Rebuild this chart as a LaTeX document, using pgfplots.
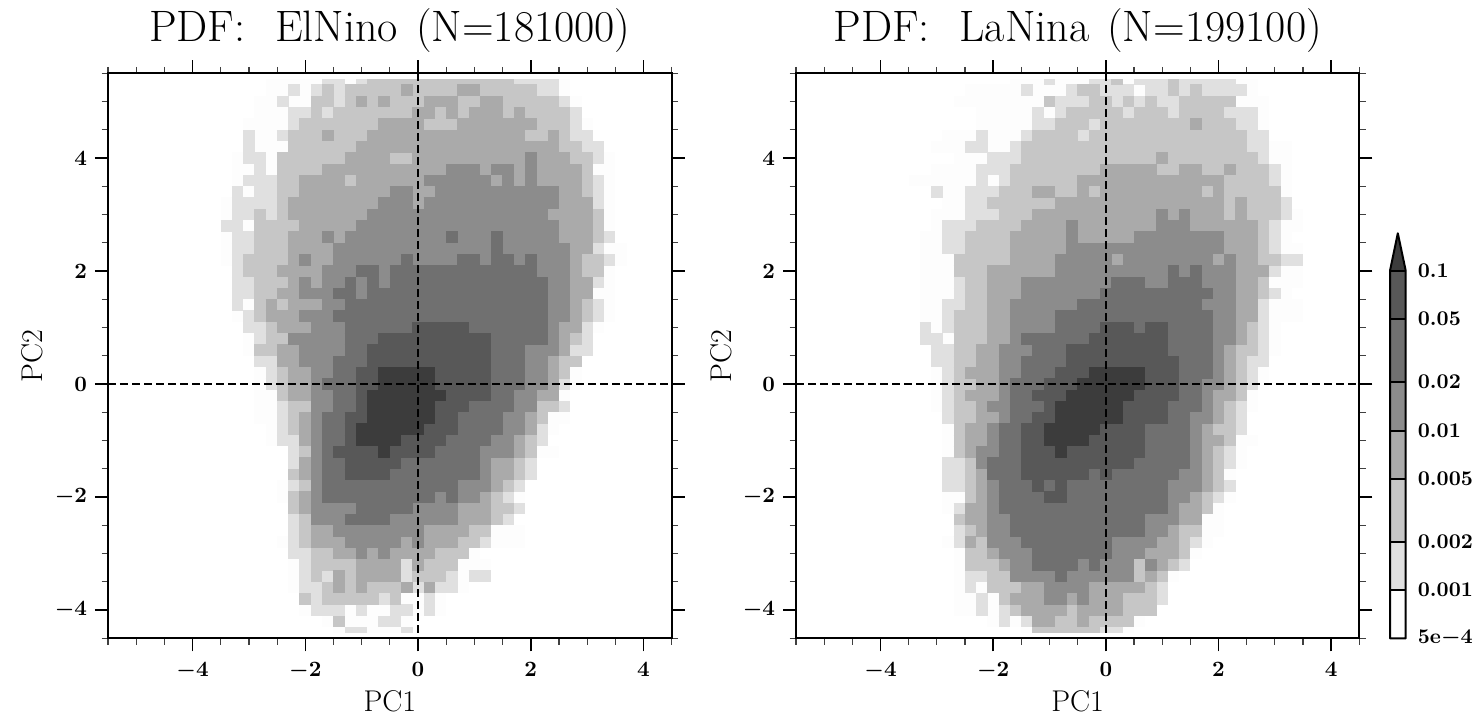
\documentclass[border=0pt]{standalone}
\usepackage{pgfplots}
\pgfplotsset{compat=1.18}
\usepackage{pgfplotstable}
\definecolor{lev1}{HTML}{FDFDFD}
\definecolor{lev2}{HTML}{E0E0E0}
\definecolor{lev3}{HTML}{C6C6C6}
\definecolor{lev4}{HTML}{AAAAAA}
\definecolor{lev5}{HTML}{8C8C8C}
\definecolor{lev6}{HTML}{707070}
\definecolor{lev7}{HTML}{585858}
\definecolor{lev8}{HTML}{3C3C3C}
% Each row: row centre y, first and last cell centre of a run, shading level
\pgfplotstableread[row sep=\\]{
y a b c\\
5.4 -2.6 2.6 1\\ 5.4 -1.6 -1.4 2\\ 5.4 -1 -1 2\\ 5.4 -0.8 1.6 3\\ 5.4 1.8 2.4 2\\
5.2 -2.6 2.6 1\\ 5.2 -2.2 -2.2 2\\ 5.2 -1.8 -1.8 2\\ 5.2 -1.6 -1.6 3\\ 5.2 -1.4 -1.4 2\\ 5.2 -1.2 -0.4 3\\ 5.2 -0.2 -0.2 4\\ 5.2 0 0.6 3\\ 5.2 0.8 1 4\\ 5.2 1.2 2 3\\ 5.2 2.2 2.4 2\\
5 -2.8 2.8 1\\ 5 -2.4 -2.4 2\\ 5 -1.8 -1.6 3\\ 5 -1.4 -1.4 2\\ 5 -1.2 -1.2 3\\ 5 -1 -1 4\\ 5 -0.8 -0.8 3\\ 5 -0.6 -0.6 4\\ 5 -0.4 0 3\\ 5 0.2 0.6 4\\ 5 0.8 1 3\\ 5 1.2 1.4 4\\ 5 1.6 2.4 3\\ 5 2.6 2.6 2\\
4.8 -2.8 2.8 1\\ 4.8 -2.2 -2 2\\ 4.8 -1.8 -1.8 3\\ 4.8 -1.6 -1.6 2\\ 4.8 -1.4 -0.2 3\\ 4.8 0 0.2 4\\ 4.8 0.4 0.4 3\\ 4.8 0.6 0.6 4\\ 4.8 0.8 0.8 3\\ 4.8 1 1.4 4\\ 4.8 1.6 1.6 3\\ 4.8 1.8 1.8 4\\ 4.8 2 2.6 3\\ 4.8 2.8 2.8 2\\
4.6 -3 3 1\\ 4.6 -2.2 -2.2 2\\ 4.6 -2 -0.8 3\\ 4.6 -0.6 0 4\\ 4.6 0.2 0.6 3\\ 4.6 0.8 2 4\\ 4.6 2.2 2.6 3\\ 4.6 2.8 2.8 2\\
4.4 -3 3 1\\ 4.4 -3 -3 2\\ 4.4 -2.4 -2.4 2\\ 4.4 -2.2 -1.8 3\\ 4.4 -1.6 -1.6 4\\ 4.4 -1.4 -1 3\\ 4.4 -0.8 1.8 4\\ 4.4 2 2.2 3\\ 4.4 2.4 2.4 4\\ 4.4 2.6 2.6 3\\ 4.4 2.8 3 2\\
4.2 -3 3.2 1\\ 4.2 -3 -3 2\\ 4.2 -2.2 -1.2 3\\ 4.2 -1 2.4 4\\ 4.2 2.6 2.8 3\\ 4.2 3 3.2 2\\
4 -3.2 3.4 1\\ 4 -3 -2.8 2\\ 4 -2.4 -1.4 3\\ 4 -1.2 -0.6 4\\ 4 -0.4 -0.2 3\\ 4 0 1.8 4\\ 4 2 2 5\\ 4 2.2 2.6 4\\ 4 2.8 3 3\\ 4 3.2 3.2 2\\
3.8 -3.2 3.4 1\\ 3.8 -2.8 -2.8 2\\ 3.8 -2.4 -1.8 3\\ 3.8 -1.6 0.4 4\\ 3.8 0.6 1 5\\ 3.8 1.2 1.2 4\\ 3.8 1.4 1.6 5\\ 3.8 1.8 1.8 4\\ 3.8 2 2 5\\ 3.8 2.2 2.8 4\\ 3.8 3 3 3\\
3.6 -3.2 3.4 1\\ 3.6 -3 -2.6 2\\ 3.6 -2.4 -2.2 3\\ 3.6 -2 -1.4 4\\ 3.6 -1.2 -1.2 3\\ 3.6 -1 0 4\\ 3.6 0.2 1.2 5\\ 3.6 1.4 1.4 4\\ 3.6 1.6 1.6 5\\ 3.6 1.8 1.8 4\\ 3.6 2 2 5\\ 3.6 2.2 2.8 4\\ 3.6 3 3 3\\ 3.6 3.2 3.2 2\\
3.4 -3.2 3.4 1\\ 3.4 -3.2 -3.2 2\\ 3.4 -2.8 -2.6 2\\ 3.4 -2.4 -2.2 3\\ 3.4 -2 -0.6 4\\ 3.4 -0.4 -0.2 5\\ 3.4 0 0.2 4\\ 3.4 0.4 2.4 5\\ 3.4 2.6 2.8 4\\ 3.4 3 3 3\\ 3.4 3.2 3.2 2\\
3.2 -3.4 3.4 1\\ 3.2 -3.2 -2.6 2\\ 3.2 -2.4 -2.4 3\\ 3.2 -2.2 -0.8 4\\ 3.2 -0.6 -0.2 5\\ 3.2 0 0 4\\ 3.2 0.2 2.4 5\\ 3.2 2.6 3 4\\ 3.2 3.2 3.2 2\\
3 -3.4 3.4 1\\ 3 -3.2 -3 2\\ 3 -2.8 -2.8 3\\ 3 -2.6 -2.6 2\\ 3 -2.4 -2.4 3\\ 3 -2.2 -1 4\\ 3 -0.8 2.2 5\\ 3 2.4 3 4\\ 3 3.2 3.2 3\\
2.8 -3.4 3.4 1\\ 2.8 -3.4 -3.2 2\\ 2.8 -2.8 -2.2 3\\ 2.8 -2 -1.2 4\\ 2.8 -1 2.4 5\\ 2.8 2.6 3 4\\ 2.8 3.2 3.2 3\\
2.6 -3.4 3.4 1\\ 2.6 -3.2 -3 2\\ 2.6 -2.8 -2.4 3\\ 2.6 -2.2 -1.8 4\\ 2.6 -1.6 -1.6 5\\ 2.6 -1.4 -1.4 4\\ 2.6 -1.2 0.4 5\\ 2.6 0.6 0.6 6\\ 2.6 0.8 1.2 5\\ 2.6 1.4 1.4 6\\ 2.6 1.6 2.4 5\\ 2.6 2.6 3 4\\ 2.6 3.2 3.2 3\\ 2.6 3.4 3.4 2\\
2.4 -3.4 3.6 1\\ 2.4 -3.2 -3 2\\ 2.4 -2.8 -2.4 3\\ 2.4 -2.2 -1.6 4\\ 2.4 -1.4 1.2 5\\ 2.4 1.4 1.4 6\\ 2.4 1.6 2.6 5\\ 2.4 2.8 3 4\\ 2.4 3.2 3.2 2\\
2.2 -3.4 3.6 1\\ 2.2 -3.2 -3.2 2\\ 2.2 -3 -2.4 3\\ 2.2 -2.2 -2.2 4\\ 2.2 -2 -2 5\\ 2.2 -1.8 -1.6 4\\ 2.2 -1.4 -0.4 5\\ 2.2 -0.2 -0.2 6\\ 2.2 0 0.6 5\\ 2.2 0.8 1 6\\ 2.2 1.2 1.2 5\\ 2.2 1.4 1.6 6\\ 2.2 1.8 1.8 5\\ 2.2 2 2 6\\ 2.2 2.2 2.6 5\\ 2.2 2.8 2.8 4\\ 2.2 3 3.2 3\\ 2.2 3.4 3.4 2\\
2 -3.2 3.4 1\\ 2 -3.2 -3.2 2\\ 2 -3 -2.6 3\\ 2 -2.4 -1.8 4\\ 2 -1.6 -1.2 5\\ 2 -1 -0.8 6\\ 2 -0.6 -0.6 5\\ 2 -0.4 2 6\\ 2 2.2 2.6 5\\ 2 2.8 2.8 4\\ 2 3 3.2 3\\
1.8 -3.2 3.4 1\\ 1.8 -3.2 -3 2\\ 1.8 -2.8 -2.4 3\\ 1.8 -2.2 -2.2 4\\ 1.8 -2 -2 5\\ 1.8 -1.8 -1.8 4\\ 1.8 -1.6 -1.4 5\\ 1.8 -1.2 -1.2 6\\ 1.8 -1 -1 5\\ 1.8 -0.8 -0.8 6\\ 1.8 -0.6 -0.6 5\\ 1.8 -0.4 2.2 6\\ 1.8 2.4 2.6 5\\ 1.8 2.8 3 4\\ 1.8 3.2 3.2 2\\
1.6 -3.2 3.4 1\\ 1.6 -3.2 -3 2\\ 1.6 -2.8 -2.6 3\\ 1.6 -2.4 -2.2 4\\ 1.6 -2 -1.6 5\\ 1.6 -1.4 -1.2 6\\ 1.6 -1 -1 5\\ 1.6 -0.8 2.2 6\\ 1.6 2.4 2.6 5\\ 1.6 2.8 3 4\\
1.4 -3.2 3.4 1\\ 1.4 -3.2 -3.2 2\\ 1.4 -2.8 -2.8 3\\ 1.4 -2.6 -2.6 4\\ 1.4 -2.4 -2.4 3\\ 1.4 -2.2 -1.8 4\\ 1.4 -1.6 -1.4 5\\ 1.4 -1.2 2.2 6\\ 1.4 2.4 2.6 5\\ 1.4 2.8 2.8 4\\ 1.4 3 3 3\\ 1.4 3.2 3.2 2\\
1.2 -3.2 3.4 1\\ 1.2 -3 -3 2\\ 1.2 -2.8 -2.8 3\\ 1.2 -2.6 -2.2 4\\ 1.2 -2 -1.6 5\\ 1.2 -1.4 2.2 6\\ 1.2 2.4 2.6 5\\ 1.2 2.8 2.8 4\\ 1.2 3 3 3\\ 1.2 3.2 3.2 2\\
1 -3 3.2 1\\ 1 -3 -2.8 2\\ 1 -2.6 -2.6 3\\ 1 -2.4 -2 4\\ 1 -1.8 -1.4 5\\ 1 -1.2 -0.2 6\\ 1 0 0.8 7\\ 1 1 2.2 6\\ 1 2.4 2.4 5\\ 1 2.6 2.8 4\\ 1 3 3 2\\
0.8 -3 3 1\\ 0.8 -2.8 -2.8 2\\ 0.8 -2.6 -2.4 3\\ 0.8 -2.2 -1.4 5\\ 0.8 -1.2 -0.8 6\\ 0.8 -0.6 1.2 7\\ 0.8 1.4 2.2 6\\ 0.8 2.4 2.4 5\\ 0.8 2.6 2.6 4\\ 0.8 2.8 2.8 3\\ 0.8 3 3 2\\
0.6 -3 3 1\\ 0.6 -2.8 -2.6 3\\ 0.6 -2.4 -2.2 4\\ 0.6 -2 -1.4 5\\ 0.6 -1.2 -1 6\\ 0.6 -0.8 1.2 7\\ 0.6 1.4 1.8 6\\ 0.6 2 2.4 5\\ 0.6 2.6 2.6 4\\ 0.6 2.8 3 2\\
0.4 -2.8 2.8 1\\ 0.4 -2.8 -2.6 2\\ 0.4 -2.4 -2.2 4\\ 0.4 -2 -1.6 5\\ 0.4 -1.4 -1 6\\ 0.4 -0.8 1.2 7\\ 0.4 1.4 1.8 6\\ 0.4 2 2.2 5\\ 0.4 2.4 2.4 4\\ 0.4 2.6 2.8 3\\
0.2 -2.8 2.8 1\\ 0.2 -2.6 -2.6 2\\ 0.2 -2.4 -2.4 3\\ 0.2 -2.2 -2 4\\ 0.2 -1.8 -1.6 5\\ 0.2 -1.4 -1.2 6\\ 0.2 -1 -0.8 7\\ 0.2 -0.6 0.2 8\\ 0.2 0.4 1.2 7\\ 0.2 1.4 1.8 6\\ 0.2 2 2.2 5\\ 0.2 2.4 2.4 4\\ 0.2 2.6 2.6 3\\
0 -2.8 2.8 1\\ 0 -2.6 -2.6 2\\ 0 -2.4 -2.4 3\\ 0 -2.2 -2 4\\ 0 -1.8 -1.8 5\\ 0 -1.6 -1.2 6\\ 0 -1 -0.8 7\\ 0 -0.6 0.2 8\\ 0 0.4 1.2 7\\ 0 1.4 1.8 6\\ 0 2 2.2 5\\ 0 2.4 2.4 4\\ 0 2.6 2.6 2\\
-0.2 -2.8 2.6 1\\ -0.2 -2.4 -2.4 3\\ -0.2 -2.2 -2 4\\ -0.2 -1.8 -1.6 5\\ -0.2 -1.4 -1.2 6\\ -0.2 -1 -1 7\\ -0.2 -0.8 0.4 8\\ -0.2 0.6 1.2 7\\ -0.2 1.4 1.6 6\\ -0.2 1.8 2 5\\ -0.2 2.2 2.4 4\\
-0.4 -2.8 2.6 1\\ -0.4 -2.4 -2.4 2\\ -0.4 -2.2 -2 3\\ -0.4 -1.8 -1.6 5\\ -0.4 -1.4 -1.2 6\\ -0.4 -1 -1 7\\ -0.4 -0.8 0.2 8\\ -0.4 0.4 0.8 7\\ -0.4 1 1.6 6\\ -0.4 1.8 2 5\\ -0.4 2.2 2.4 3\\ -0.4 2.6 2.6 2\\
-0.6 -2.8 2.6 1\\ -0.6 -2.4 -2.4 2\\ -0.6 -2.2 -2.2 3\\ -0.6 -2 -2 4\\ -0.6 -1.8 -1.8 5\\ -0.6 -1.6 -1.4 6\\ -0.6 -1.2 -1 7\\ -0.6 -0.8 0.2 8\\ -0.6 0.4 0.6 7\\ -0.6 0.8 1.4 6\\ -0.6 1.6 1.8 5\\ -0.6 2 2 4\\ -0.6 2.2 2.2 3\\
-0.8 -2.6 2.4 1\\ -0.8 -2.4 -2.4 2\\ -0.8 -2.2 -2.2 3\\ -0.8 -2 -2 4\\ -0.8 -1.8 -1.8 5\\ -0.8 -1.6 -1.4 6\\ -0.8 -1.2 -1.2 7\\ -0.8 -1 0 8\\ -0.8 0.2 0.6 7\\ -0.8 0.8 1.4 6\\ -0.8 1.6 1.8 5\\ -0.8 2 2 4\\ -0.8 2.2 2.2 2\\
-1 -2.6 2.2 1\\ -1 -2.4 -2.2 2\\ -1 -2 -2 4\\ -1 -1.8 -1.8 5\\ -1 -1.6 -1.4 6\\ -1 -1.2 -1.2 7\\ -1 -1 -0.4 8\\ -1 -0.2 0.4 7\\ -1 0.6 1.2 6\\ -1 1.4 1.6 5\\ -1 1.8 1.8 4\\ -1 2 2 3\\ -1 2.2 2.2 2\\
-1.2 -2.2 2.4 1\\ -1.2 -2.2 -2.2 2\\ -1.2 -2 -2 3\\ -1.2 -1.8 -1.8 5\\ -1.2 -1.6 -1.6 6\\ -1.2 -1.4 -0.8 7\\ -1.2 -0.6 -0.6 8\\ -1.2 -0.4 0.2 7\\ -1.2 0.4 1 6\\ -1.2 1.2 1.6 5\\ -1.2 1.8 1.8 4\\ -1.2 2 2 3\\
-1.4 -2.2 2 1\\ -1.4 -2.2 -2.2 2\\ -1.4 -2 -2 4\\ -1.4 -1.8 -1.8 5\\ -1.4 -1.6 -1.4 6\\ -1.4 -1.2 -0.4 7\\ -1.4 -0.2 1 6\\ -1.4 1.2 1.2 5\\ -1.4 1.4 1.6 4\\ -1.4 1.8 1.8 3\\ -1.4 2 2 2\\
-1.6 -2.2 2 1\\ -1.6 -2.2 -2.2 3\\ -1.6 -2 -2 4\\ -1.6 -1.8 -1.8 5\\ -1.6 -1.6 -1.4 6\\ -1.6 -1.2 -0.6 7\\ -1.6 -0.4 1 6\\ -1.6 1.2 1.2 5\\ -1.6 1.4 1.6 4\\ -1.6 1.8 1.8 3\\ -1.6 2 2 2\\
-1.8 -2.4 1.8 1\\ -1.8 -2.2 -2.2 2\\ -1.8 -2 -2 3\\ -1.8 -1.8 -1.8 5\\ -1.8 -1.6 0.6 6\\ -1.8 0.8 1.2 5\\ -1.8 1.4 1.4 4\\ -1.8 1.6 1.6 3\\ -1.8 1.8 1.8 2\\
-2 -2.4 1.8 1\\ -2 -2.2 -2.2 3\\ -2 -2 -2 4\\ -2 -1.8 -1.8 5\\ -2 -1.6 0.2 6\\ -2 0.4 0.4 5\\ -2 0.6 0.6 6\\ -2 0.8 1 5\\ -2 1.2 1.2 4\\ -2 1.4 1.4 3\\ -2 1.6 1.6 2\\
-2.2 -2.2 1.8 1\\ -2.2 -2.2 -2.2 3\\ -2.2 -2 -2 4\\ -2.2 -1.8 -1.2 5\\ -2.2 -1 -0.2 6\\ -2.2 0 0.6 5\\ -2.2 0.8 1.2 4\\ -2.2 1.4 1.6 3\\ -2.2 1.8 1.8 2\\
-2.4 -2.2 1.6 1\\ -2.4 -2.2 -2.2 2\\ -2.4 -2 -2 3\\ -2.4 -1.8 -1.4 5\\ -2.4 -1.2 -0.6 6\\ -2.4 -0.4 0.6 5\\ -2.4 0.8 1.2 4\\ -2.4 1.4 1.4 3\\ -2.4 1.6 1.6 2\\
-2.6 -2.2 1.8 1\\ -2.6 -2.2 -2.2 2\\ -2.6 -2 -2 3\\ -2.6 -1.8 -1.6 4\\ -2.6 -1.4 0 5\\ -2.6 0.2 0.8 4\\ -2.6 1 1.2 3\\
-2.8 -2.4 1.8 1\\ -2.8 -2.2 -2.2 2\\ -2.8 -2 -2 3\\ -2.8 -1.8 -1.4 4\\ -2.8 -1.2 -0.4 5\\ -2.8 -0.2 -0.2 4\\ -2.8 0 0 5\\ -2.8 0.2 0.6 4\\ -2.8 0.8 1 3\\ -2.8 1.2 1.2 2\\
-3 -2.2 1 1\\ -3 -2.2 -2 2\\ -3 -1.8 -1.6 3\\ -3 -1.4 -1.2 4\\ -3 -1 -1 5\\ -3 -0.8 -0.8 4\\ -3 -0.6 -0.6 5\\ -3 -0.4 0.2 4\\ -3 0.4 0.8 3\\
-3.2 -2.2 1.2 1\\ -3.2 -2 -2 2\\ -3.2 -1.8 -1.2 3\\ -3.2 -1 -0.4 4\\ -3.2 -0.2 -0.2 2\\ -3.2 0 0 4\\ -3.2 0.2 0.6 3\\
-3.4 -2.2 1.2 1\\ -3.4 -2 -2 2\\ -3.4 -1.8 -1.8 3\\ -3.4 -1.6 -1.6 2\\ -3.4 -1.4 -1.4 4\\ -3.4 -1.2 -1.2 3\\ -3.4 -1 -0.4 4\\ -3.4 -0.2 -0.2 2\\ -3.4 0 0.4 3\\ -3.4 0.6 0.6 2\\ -3.4 1 1.2 2\\
-3.6 -2.2 0.8 1\\ -3.6 -2 -1.8 2\\ -3.6 -1.6 -1.6 3\\ -3.6 -1.4 -1.4 4\\ -3.6 -1.2 -1.2 3\\ -3.6 -1 -1 4\\ -3.6 -0.8 -0.4 3\\ -3.6 -0.2 -0.2 4\\ -3.6 0 0 2\\ -3.6 0.2 0.2 4\\ -3.6 0.4 0.6 2\\
-3.8 -2 0.4 1\\ -3.8 -2 -2 3\\ -3.8 -1.8 -1.8 2\\ -3.8 -1.6 -0.8 3\\ -3.8 -0.6 -0.6 2\\ -3.8 -0.4 -0.4 3\\ -3.8 0.2 0.2 2\\
-4 -2 0.4 1\\ -4 -1.8 -1.4 2\\ -4 -1 -1 2\\ -4 -0.4 -0.2 2\\ -4 0.2 0.2 2\\
-4.2 -1.6 -0.2 1\\ -4.2 -1.4 -1.4 3\\ -4.2 -0.6 -0.4 2\\
-4.4 -1.4 -0.2 1\\ -4.4 -1.2 -1 2\\ -4.4 -0.2 -0.2 2\\
}\tabElNino
\pgfplotstableread[row sep=\\]{
y a b c\\
5.4 -1.6 2.6 1\\ 5.4 -1 -1 2\\ 5.4 -0.2 0 2\\ 5.4 0.2 0.2 3\\ 5.4 0.6 1 2\\ 5.4 1.2 1.2 3\\ 5.4 1.4 2.2 2\\
5.2 -2.4 2.6 1\\ 5.2 -1.4 -1.4 2\\ 5.2 -0.6 -0.6 2\\ 5.2 -0.4 -0.2 3\\ 5.2 0 0.4 2\\ 5.2 0.8 1 2\\ 5.2 1.2 1.2 3\\ 5.2 1.4 1.4 2\\ 5.2 1.6 1.6 3\\ 5.2 1.8 2.4 2\\
5 -2.6 2.8 1\\ 5 -1 -1 3\\ 5 -0.8 -0.4 2\\ 5 -0.2 0 3\\ 5 0.2 0.2 2\\ 5 0.4 0.4 3\\ 5 0.6 0.6 2\\ 5 0.8 0.8 3\\ 5 1 1.2 2\\ 5 1.4 2.2 3\\
4.8 -2.2 2.8 1\\ 4.8 -1.2 -1.2 2\\ 4.8 -0.8 -0.8 2\\ 4.8 -0.6 0.2 3\\ 4.8 0.4 0.4 2\\ 4.8 0.6 1 3\\ 4.8 1.2 1.2 2\\ 4.8 1.4 2 3\\ 4.8 2.2 2.6 2\\
4.6 -2.2 2.8 1\\ 4.6 -1.2 -1 2\\ 4.6 -0.8 -0.4 3\\ 4.6 -0.2 -0.2 2\\ 4.6 0 1.4 3\\ 4.6 1.6 1.6 4\\ 4.6 1.8 2.2 3\\ 4.6 2.4 2.6 2\\
4.4 -2.8 2.8 1\\ 4.4 -2.2 -2.2 2\\ 4.4 -1.4 -1.4 2\\ 4.4 -1.2 -0.6 3\\ 4.4 -0.4 -0.4 2\\ 4.4 -0.2 2.4 3\\ 4.4 2.6 2.8 2\\
4.2 -3 3.2 1\\ 4.2 -2.4 -2.2 2\\ 4.2 -1.6 -1.6 2\\ 4.2 -1.4 2.4 3\\ 4.2 2.6 2.8 2\\
4 -2.6 3.2 1\\ 4 -2 -1.6 2\\ 4 -1.4 0.8 3\\ 4 1 1 4\\ 4 1.2 2.6 3\\ 4 2.8 2.8 2\\
3.8 -3 3.2 1\\ 3.8 -2.2 -1.8 2\\ 3.8 -1.6 -0.2 3\\ 3.8 0 0.8 4\\ 3.8 1 1.2 3\\ 3.8 1.4 1.6 4\\ 3.8 1.8 2 3\\ 3.8 2.2 2.2 4\\ 3.8 2.4 2.8 3\\ 3.8 3 3 2\\
3.6 -3.4 3.2 1\\ 3.6 -2.2 -2.2 2\\ 3.6 -1.8 -1.8 2\\ 3.6 -1.6 -0.6 3\\ 3.6 -0.4 2 4\\ 3.6 2.2 2.8 3\\ 3.6 3 3 2\\
3.4 -3 3.2 1\\ 3.4 -3 -3 2\\ 3.4 -2.4 -2 2\\ 3.4 -1.8 -1.4 3\\ 3.4 -1.2 -1 4\\ 3.4 -0.8 -0.6 3\\ 3.4 -0.4 -0.4 4\\ 3.4 -0.2 -0.2 3\\ 3.4 0 1.6 4\\ 3.4 1.8 1.8 3\\ 3.4 2 2 4\\ 3.4 2.2 3 3\\
3.2 -2.8 3.2 1\\ 3.2 -2.4 -2.2 2\\ 3.2 -2 -1 3\\ 3.2 -0.8 2 4\\ 3.2 2.2 2.2 3\\ 3.2 2.4 2.4 4\\ 3.2 2.6 3 3\\ 3.2 3.2 3.2 2\\
3 -3 3.4 1\\ 3 -2.4 -2 2\\ 3 -1.8 -1.4 3\\ 3 -1.2 0.8 4\\ 3 1 1 5\\ 3 1.2 1.2 4\\ 3 1.4 1.4 5\\ 3 1.6 2 4\\ 3 2.2 2.2 3\\ 3 2.4 2.4 4\\ 3 2.6 3 3\\ 3 3.2 3.2 2\\
2.8 -3 3.4 1\\ 2.8 -2.8 -2.4 2\\ 2.8 -2.2 -1.6 3\\ 2.8 -1.4 -0.8 4\\ 2.8 -0.6 -0.6 5\\ 2.8 -0.4 0.8 4\\ 2.8 1 1.4 5\\ 2.8 1.6 2.6 4\\ 2.8 2.8 2.8 3\\ 2.8 3 3 2\\
2.6 -3.2 3.2 1\\ 2.6 -2.8 -2.6 2\\ 2.6 -2.4 -1.8 3\\ 2.6 -1.6 -0.8 4\\ 2.6 -0.6 -0.6 5\\ 2.6 -0.4 0.4 4\\ 2.6 0.6 2 5\\ 2.6 2.2 2.6 4\\ 2.6 2.8 2.8 3\\ 2.6 3 3 2\\
2.4 -3.2 3.4 1\\ 2.4 -2.8 -2.6 2\\ 2.4 -2.4 -1.8 3\\ 2.4 -1.6 -0.8 4\\ 2.4 -0.6 2 5\\ 2.4 2.2 2.6 4\\ 2.4 2.8 2.8 3\\ 2.4 3 3 2\\
2.2 -3.2 3.4 1\\ 2.2 -2.6 -1.8 3\\ 2.2 -1.6 -1 4\\ 2.2 -0.8 0 5\\ 2.2 0.2 0.2 4\\ 2.2 0.4 1.8 5\\ 2.2 2 2 4\\ 2.2 2.2 2.2 5\\ 2.2 2.4 2.6 4\\ 2.2 2.8 3 3\\ 2.2 3.2 3.4 2\\
2 -3.2 3.4 1\\ 2 -2.6 -2.2 3\\ 2 -2 -1 4\\ 2 -0.8 1 5\\ 2 1.2 1.2 6\\ 2 1.4 1.4 5\\ 2 1.6 1.6 6\\ 2 1.8 2.2 5\\ 2 2.4 2.8 4\\ 2 3 3 2\\
1.8 -3.2 3.4 1\\ 1.8 -2.6 -2.6 2\\ 1.8 -2.4 -2.2 3\\ 1.8 -2 -1.6 4\\ 1.8 -1.4 0 5\\ 1.8 0.2 0.6 6\\ 1.8 0.8 1 5\\ 1.8 1.2 1.6 6\\ 1.8 1.8 2.2 5\\ 1.8 2.4 2.6 4\\ 1.8 2.8 2.8 3\\
1.6 -3.2 3.2 1\\ 1.6 -2.6 -2.6 2\\ 1.6 -2.4 -2.2 3\\ 1.6 -2 -1.6 4\\ 1.6 -1.4 -0.2 5\\ 1.6 0 1.8 6\\ 1.6 2 2.2 5\\ 1.6 2.4 2.6 4\\ 1.6 2.8 2.8 3\\ 1.6 3 3 2\\
1.4 -3.2 3.4 1\\ 1.4 -2.8 -2.6 2\\ 1.4 -2.4 -2.2 3\\ 1.4 -2 -1.8 4\\ 1.4 -1.6 -0.6 5\\ 1.4 -0.4 1.6 6\\ 1.4 1.8 2.2 5\\ 1.4 2.4 2.6 4\\ 1.4 2.8 2.8 2\\
1.2 -3.2 3.4 1\\ 1.2 -2.8 -2.8 2\\ 1.2 -2.6 -2.2 3\\ 1.2 -2 -1.8 4\\ 1.2 -1.6 -1 5\\ 1.2 -0.8 1.8 6\\ 1.2 2 2.2 5\\ 1.2 2.4 2.6 4\\ 1.2 2.8 2.8 2\\
1 -3.2 3 1\\ 1 -3.2 -3.2 2\\ 1 -2.8 -2.8 2\\ 1 -2.6 -2.2 3\\ 1 -2 -1.8 4\\ 1 -1.6 -1 5\\ 1 -0.8 -0.2 6\\ 1 0 0.4 7\\ 1 0.6 0.6 6\\ 1 0.8 1 7\\ 1 1.2 1.8 6\\ 1 2 2.2 5\\ 1 2.4 2.4 4\\ 1 2.6 2.6 3\\ 1 2.8 2.8 2\\
0.8 -3.2 3 1\\ 0.8 -3.2 -3 2\\ 0.8 -2.6 -2.2 3\\ 0.8 -2 -1.8 4\\ 0.8 -1.6 -1.6 5\\ 0.8 -1.4 -0.4 6\\ 0.8 -0.2 1 7\\ 0.8 1.2 1.8 6\\ 0.8 2 2.2 5\\ 0.8 2.4 2.4 4\\ 0.8 2.6 2.6 3\\ 0.8 2.8 2.8 2\\
0.6 -3 3 1\\ 0.6 -3 -2.8 2\\ 0.6 -2.6 -2.4 3\\ 0.6 -2.2 -2 4\\ 0.6 -1.8 -1.4 5\\ 0.6 -1.2 -0.8 6\\ 0.6 -0.6 1 7\\ 0.6 1.2 1.8 6\\ 0.6 2 2 5\\ 0.6 2.2 2.2 4\\ 0.6 2.4 2.6 3\\ 0.6 2.8 2.8 2\\
0.4 -3 2.8 1\\ 0.4 -3 -2.8 2\\ 0.4 -2.6 -2.4 3\\ 0.4 -2.2 -2 4\\ 0.4 -1.8 -1.6 5\\ 0.4 -1.4 -0.8 6\\ 0.4 -0.6 1.2 7\\ 0.4 1.4 1.8 6\\ 0.4 2 2 5\\ 0.4 2.2 2.2 4\\ 0.4 2.4 2.4 3\\ 0.4 2.6 2.8 2\\
0.2 -3 2.8 1\\ 0.2 -2.8 -2.8 2\\ 0.2 -2.6 -2.6 3\\ 0.2 -2.4 -2 4\\ 0.2 -1.8 -1.6 5\\ 0.2 -1.4 -1 6\\ 0.2 -0.8 -0.4 7\\ 0.2 -0.2 0.6 8\\ 0.2 0.8 1.2 7\\ 0.2 1.4 1.8 6\\ 0.2 2 2 5\\ 0.2 2.2 2.2 4\\ 0.2 2.4 2.4 3\\ 0.2 2.6 2.6 2\\
0 -3 2.8 1\\ 0 -2.8 -2.8 2\\ 0 -2.6 -2.4 3\\ 0 -2.2 -2 4\\ 0 -1.8 -1.8 5\\ 0 -1.6 -1.2 6\\ 0 -1 -0.6 7\\ 0 -0.4 0.6 8\\ 0 0.8 1.2 7\\ 0 1.4 1.6 6\\ 0 1.8 2 5\\ 0 2.2 2.2 4\\ 0 2.4 2.4 3\\ 0 2.6 2.6 2\\
-0.2 -3 2.6 1\\ -0.2 -2.8 -2.8 2\\ -0.2 -2.6 -2.6 3\\ -0.2 -2.4 -2 4\\ -0.2 -1.8 -1.8 5\\ -0.2 -1.6 -1.4 6\\ -0.2 -1.2 -0.8 7\\ -0.2 -0.6 0.4 8\\ -0.2 0.6 1.2 7\\ -0.2 1.4 1.6 6\\ -0.2 1.8 1.8 5\\ -0.2 2 2.2 4\\ -0.2 2.4 2.4 3\\
-0.4 -3 2.6 1\\ -0.4 -2.8 -2.8 2\\ -0.4 -2.6 -2.4 3\\ -0.4 -2.2 -2.2 4\\ -0.4 -2 -1.8 5\\ -0.4 -1.6 -1.2 6\\ -0.4 -1 -1 7\\ -0.4 -0.8 0.2 8\\ -0.4 0.4 1 7\\ -0.4 1.2 1.6 6\\ -0.4 1.8 1.8 5\\ -0.4 2 2 4\\ -0.4 2.2 2.2 3\\ -0.4 2.4 2.4 2\\
-0.6 -2.8 2.4 1\\ -0.6 -2.8 -2.8 2\\ -0.6 -2.6 -2.4 3\\ -0.6 -2.2 -2 4\\ -0.6 -1.8 -1.8 5\\ -0.6 -1.6 -1.4 6\\ -0.6 -1.2 -1 7\\ -0.6 -0.8 0.2 8\\ -0.6 0.4 1 7\\ -0.6 1.2 1.4 6\\ -0.6 1.6 1.8 5\\ -0.6 2 2 4\\ -0.6 2.2 2.2 3\\ -0.6 2.4 2.4 2\\
-0.8 -2.8 2.4 1\\ -0.8 -2.6 -2.6 3\\ -0.8 -2.4 -2.2 4\\ -0.8 -2 -2 5\\ -0.8 -1.8 -1.6 6\\ -0.8 -1.4 -1.2 7\\ -0.8 -1 -0.2 8\\ -0.8 0 0.6 7\\ -0.8 0.8 1.4 6\\ -0.8 1.6 1.6 5\\ -0.8 1.8 1.8 4\\ -0.8 2 2.2 3\\ -0.8 2.4 2.4 2\\
-1 -2.8 2.6 1\\ -1 -2.6 -2.6 3\\ -1 -2.4 -2.2 4\\ -1 -2 -2 5\\ -1 -1.8 -1.6 6\\ -1 -1.4 -1.2 7\\ -1 -1 -0.4 8\\ -1 -0.2 0.6 7\\ -1 0.8 1.4 6\\ -1 1.6 1.6 5\\ -1 1.8 2 4\\ -1 2.2 2.2 3\\
-1.2 -2.8 2.4 1\\ -1.2 -2.6 -2.6 3\\ -1.2 -2.4 -2.4 4\\ -1.2 -2.2 -2 5\\ -1.2 -1.8 -1.6 6\\ -1.2 -1.4 -1 7\\ -1.2 -0.8 -0.8 8\\ -1.2 -0.6 0.6 7\\ -1.2 0.8 1.4 6\\ -1.2 1.6 1.6 5\\ -1.2 1.8 1.8 4\\ -1.2 2 2 3\\ -1.2 2.2 2.2 2\\
-1.4 -2.8 2.4 1\\ -1.4 -2.8 -2.6 2\\ -1.4 -2.4 -2.4 3\\ -1.4 -2.2 -2.2 5\\ -1.4 -2 -1.6 6\\ -1.4 -1.4 0.4 7\\ -1.4 0.6 1.4 6\\ -1.4 1.6 1.6 5\\ -1.4 1.8 1.8 4\\ -1.4 2 2 3\\ -1.4 2.2 2.2 2\\
-1.6 -2.8 2.2 1\\ -1.6 -2.8 -2.6 2\\ -1.6 -2.4 -2.4 3\\ -1.6 -2.2 -2.2 4\\ -1.6 -2 -1.6 6\\ -1.6 -1.4 -0.4 7\\ -1.6 -0.2 -0.2 6\\ -1.6 0 0 7\\ -1.6 0.2 1.2 6\\ -1.6 1.4 1.6 5\\ -1.6 1.8 1.8 4\\ -1.6 2 2 3\\
-1.8 -2.8 2.2 1\\ -1.8 -2.8 -2.6 2\\ -1.8 -2.4 -2.4 3\\ -1.8 -2.2 -2.2 4\\ -1.8 -2 -2 5\\ -1.8 -1.8 -1.4 6\\ -1.8 -1.2 -1.2 7\\ -1.8 -1 -1 6\\ -1.8 -0.8 -0.8 7\\ -1.8 -0.6 1 6\\ -1.8 1.2 1.6 5\\ -1.8 1.8 1.8 4\\ -1.8 2 2 3\\ -1.8 2.2 2.2 2\\
-2 -2.8 2.2 1\\ -2 -2.4 -2.4 3\\ -2 -2.2 -2.2 4\\ -2 -2 -2 5\\ -2 -1.8 -1.2 6\\ -2 -1 -0.8 7\\ -2 -0.6 1 6\\ -2 1.2 1.4 5\\ -2 1.6 1.6 4\\ -2 1.8 1.8 3\\ -2 2 2 2\\
-2.2 -2.8 2 1\\ -2.2 -2.6 -2.6 2\\ -2.2 -2.4 -2.2 4\\ -2.2 -2 -2 5\\ -2.2 -1.8 1 6\\ -2.2 1.2 1.2 5\\ -2.2 1.4 1.6 4\\ -2.2 1.8 1.8 3\\
-2.4 -2.6 2 1\\ -2.4 -2.6 -2.6 3\\ -2.4 -2.4 -2.2 4\\ -2.4 -2 -1.8 5\\ -2.4 -1.6 0.6 6\\ -2.4 0.8 1.2 5\\ -2.4 1.4 1.6 4\\
-2.6 -2.6 2 1\\ -2.6 -2.6 -2.6 2\\ -2.6 -2.4 -2.4 3\\ -2.6 -2.2 -2.2 4\\ -2.6 -2 -1.8 5\\ -2.6 -1.6 0.6 6\\ -2.6 0.8 1 5\\ -2.6 1.2 1.2 4\\ -2.6 1.4 1.6 3\\
-2.8 -2.8 1.8 1\\ -2.8 -2.6 -2.6 2\\ -2.8 -2.4 -2.4 4\\ -2.8 -2.2 -2.2 3\\ -2.8 -2 -1.6 5\\ -2.8 -1.4 0 6\\ -2.8 0.2 0.8 5\\ -2.8 1 1.2 4\\ -2.8 1.4 1.4 3\\ -2.8 1.6 1.6 2\\
-3 -2.6 1.6 1\\ -3 -2.4 -2.2 3\\ -3 -2 -2 4\\ -3 -1.8 -1.4 5\\ -3 -1.2 0 6\\ -3 0.2 0.6 5\\ -3 0.8 1.2 4\\ -3 1.4 1.4 3\\
-3.2 -2.6 1.4 1\\ -3.2 -2.4 -2 3\\ -3.2 -1.8 -1.8 4\\ -3.2 -1.6 -1.4 5\\ -3.2 -1.2 -0.6 6\\ -3.2 -0.4 -0.4 5\\ -3.2 -0.2 -0.2 6\\ -3.2 0 0.4 5\\ -3.2 0.6 0.6 3\\ -3.2 0.8 0.8 5\\ -3.2 1 1 4\\ -3.2 1.2 1.2 3\\ -3.2 1.4 1.4 2\\
-3.4 -2.6 1.2 1\\ -3.4 -2.4 -2.2 2\\ -3.4 -2 -1.8 3\\ -3.4 -1.6 -1 5\\ -3.4 -0.8 -0.8 6\\ -3.4 -0.6 0.4 5\\ -3.4 0.6 0.6 3\\ -3.4 0.8 0.8 4\\ -3.4 1 1 3\\
-3.6 -2.6 1 1\\ -3.6 -2.4 -2.4 2\\ -3.6 -2 -1.6 3\\ -3.6 -1.4 -1.2 4\\ -3.6 -1 -0.4 5\\ -3.6 -0.2 0.6 4\\ -3.6 0.8 0.8 3\\ -3.6 1 1 2\\
-3.8 -2.6 1 1\\ -3.8 -2.2 -2.2 2\\ -3.8 -1.8 -1.8 3\\ -3.8 -1.6 -1.2 4\\ -3.8 -1 -0.8 5\\ -3.8 -0.6 -0.6 4\\ -3.8 -0.4 -0.4 5\\ -3.8 -0.2 0.2 4\\ -3.8 0.4 0.8 3\\ -3.8 1 1 2\\
-4 -2.6 0.8 1\\ -4 -2.2 -2.2 2\\ -4 -1.8 -1.8 2\\ -4 -1.6 -1.6 3\\ -4 -1.4 -0.8 4\\ -4 -0.6 -0.6 3\\ -4 -0.4 0.2 4\\ -4 0.4 0.8 3\\
-4.2 -2 0.6 1\\ -4.2 -1.8 -1.8 2\\ -4.2 -1.4 -1.4 2\\ -4.2 -1.2 -1 4\\ -4.2 -0.8 -0.6 3\\ -4.2 -0.4 -0.4 4\\ -4.2 -0.2 0.4 3\\
-4.4 -1.4 0.4 1\\ -4.4 -1.2 -0.2 3\\ -4.4 0 0.2 2\\
}\tabLaNina
\newcommand\drawcells[1]{%
  \pgfplotsinvokeforeach{1,...,8}{%
    \addplot[draw=none, mark=none, forget plot,
      error bars/.cd, x dir=plus, x explicit, error mark=none,
      error bar style={line width=5.8pt, draw=lev##1, solid}]
      table[x expr=\thisrow{a}-0.103,
            y expr={\thisrow{c}==##1 ? \thisrow{y} : nan},
            x error expr=\thisrow{b}-\thisrow{a}+0.206] {#1};
  }%
  \addplot[fill=white, draw=none, forget plot] coordinates {(-5.5,5.4)(4.5,5.4)(4.5,5.5)(-5.5,5.5)} --cycle;
  \addplot[fill=white, draw=none, forget plot] coordinates {(-5.5,-4.5)(4.5,-4.5)(4.5,-4.4)(-5.5,-4.4)} --cycle;
  \addplot[black, line width=0.85pt, dash pattern=on 4pt off 2pt, forget plot] coordinates {(-5.5,0)(4.5,0)};
  \addplot[black, line width=0.85pt, dash pattern=on 4pt off 2pt, forget plot] coordinates {(0,5.5)(0,-4.5)};
}
\pgfplotsset{panel/.style={
  scale only axis, anchor=south west, axis on top,
  height=282.5pt,
  xmin=-5.5, xmax=4.5, ymin=-4.5, ymax=5.5,
  xtick={-4,-2,0,2,4}, ytick={-4,-2,0,2,4},
  minor xtick={-5.5,-5,-4.5,-3.5,-3,-2.5,-1.5,-1,-0.5,0.5,1,1.5,2.5,3,3.5,4.5},
  minor ytick={-4.5,-3.5,-3,-2.5,-1.5,-1,-0.5,0.5,1,1.5,2.5,3,3.5,4.5,5,5.5},
  tick align=outside, xticklabel pos=lower, yticklabel pos=left,
  major tick length=6.5pt, minor tick length=3.2pt,
  every tick/.style={black, line width=0.75pt},
  minor tick style={line width=0.6pt, black!75},
  axis line style={line width=1pt},
  tick label style={font=\fontsize{10.5}{12}\selectfont\boldmath},
  xticklabel style={yshift=-2.2pt},
  yticklabel style={xshift=-0.5pt},
  title style={at={(0.5,1)}, anchor=base, yshift=10pt, font=\fontsize{22}{26}\selectfont},
  xlabel style={at={(0.5,0)}, anchor=base, yshift=-36.5pt, inner sep=0pt, font=\fontsize{15}{17}\selectfont},
  ylabel style={at={(0,0.5)}, anchor=base, yshift=32.5pt, font=\fontsize{15}{17}\selectfont},
  xlabel=PC1, ylabel=PC2,
}}
\begin{document}
\begin{tikzpicture}
\path[use as bounding box] (0,0) rectangle (741pt,357.5pt);
\begin{axis}[panel, at={(54pt,38.35pt)}, width=281.85pt, title={PDF:\hspace{15pt}ElNino\hspace{9pt}(N=181000)}]
\drawcells{\tabElNino}
\end{axis}
\begin{axis}[panel, at={(398pt,38.35pt)}, width=281.65pt, title={PDF:\hspace{15pt}LaNina\hspace{9pt}(N=199100)}]
\drawcells{\tabLaNina}
\end{axis}
\begin{scope}[x=0.5pt, y=-0.5pt, shift={(0,357.5pt)}]
\fill[lev8] (1390,270.7) -- (1397.8,233.3) -- (1405.7,270.7) -- cycle;
\fill[lev7] (1390,318.7) rectangle (1405.7,270.7);
\fill[lev6] (1390,381.7) rectangle (1405.7,318.7);
\fill[lev5] (1390,430.7) rectangle (1405.7,381.7);
\fill[lev4] (1390,479) rectangle (1405.7,430.7);
\fill[lev3] (1390,541.7) rectangle (1405.7,479);
\fill[lev2] (1390,590) rectangle (1405.7,541.7);
\fill[lev1] (1390,638.3) rectangle (1405.7,590);
\draw[line width=1pt, line join=round] (1390,638.3) -- (1390,270.7) -- (1397.8,233.3) -- (1405.7,270.7) -- (1405.7,638.3) -- cycle;
\foreach \yy in {270.7,318.7,381.7,430.7,479,541.7,590} \draw[line width=1pt] (1390,\yy) -- (1405.7,\yy);
\foreach \yy/\tt in {270.7/0.1,318.7/0.05,381.7/0.02,430.7/0.01,479/0.005,541.7/0.002,590/0.001,638.3/5e$-$4}
  \node[anchor=west, inner sep=0pt, font=\fontsize{10.5}{12}\selectfont\bfseries\boldmath] at (1417.5,\yy) {\tt};
\end{scope}
\end{tikzpicture}
\end{document}
